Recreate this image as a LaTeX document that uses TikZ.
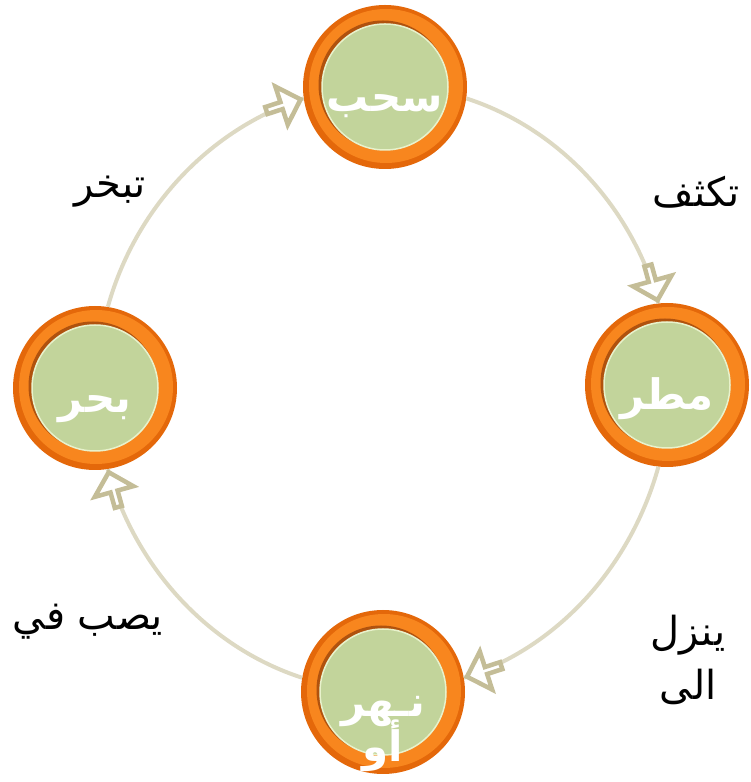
\documentclass[tikz,border=0pt]{standalone}
\usepackage{fontspec}
\setmainfont{Liberation Sans}
\newfontfamily\arabicfont[Script=Arabic]{DejaVu Sans}
\TeXXeTstate=1
\usetikzlibrary{shapes.arrows}
\definecolor{ringline}{RGB}{221,217,195}
\definecolor{arrowtan}{RGB}{196,189,151}
\definecolor{leaf}{RGB}{194,212,155}
\definecolor{leafrim}{RGB}{232,242,204}
\definecolor{orangemid}{RGB}{248,134,30}
\definecolor{orangedark}{RGB}{228,104,10}
\definecolor{ringshadow}{RGB}{176,82,14}
% label sitting a little below the centre of a circle
\newcommand\stationlabel[1]{\raisebox{-25pt}[0pt][0pt]{#1}}

\tikzset{
  station/.style={circle,minimum size=164pt,inner sep=0pt,fill=orangedark,text=white,
    font=\arabicfont\bfseries\fontsize{42}{48}\selectfont,
    path picture={
      \fill[orangemid] ([shift={(1pt,1pt)}]path picture bounding box.center) circle (77pt);
      \fill[ringshadow] ([shift={(-2pt,2pt)}]path picture bounding box.center) circle (64.5pt);
      \fill[leaf,draw=leafrim,line width=1.5pt] (path picture bounding box.center) circle (63pt);
    }},
  cycleline/.style={ringline,line width=4pt,looseness=0.9},
  blockarrow/.style={single arrow,draw=arrowtan,fill=white,line width=4.5pt,
    minimum height=36pt,minimum width=40pt,single arrow head extend=10pt,
    inner sep=0pt,sloped,allow upside down,anchor=tip,pos=1},
  stage/.style={font=\arabicfont\fontsize{40}{54}\selectfont,align=center}
}

\begin{document}
\begin{tikzpicture}[x=1pt,y=1pt]
  \path[use as bounding box,clip] (0,0) rectangle (750,782);

  % the four stages of the water cycle
  \node[station] (sahab) at (385,695) {\stationlabel{\beginR سحب\endR}};
  \node[station] (matar) at (667,397) {\stationlabel{\beginR مطر\endR}};
  \node[station] (nahr) at (383,90)
    {\stationlabel{\begin{tabular}[t]{@{}c@{}}\beginR نـهر\endR\\[-12pt]\beginR أو\endR\end{tabular}}};
  \node[station] (bahr) at (95,394) {\stationlabel{\beginR بحر\endR}};

  % connectors round the ring
  \draw[cycleline] (sahab.-8.5) to[out=-18,in=105.5] node[blockarrow] {} (matar.96.5);
  \draw[cycleline] (matar.264) to[out=-105.5,in=18] node[blockarrow] {} (nahr.10);
  \draw[cycleline] (nahr.170) to[out=162,in=-74.5] node[blockarrow] {} (bahr.-81);
  \draw[cycleline] (bahr.81) to[out=74.5,in=198] node[blockarrow] {} (sahab.188);

  % labels of the steps
  \node[stage] (tabakhur) at (110,590) {\beginR تبخر\endR};
  \node[stage] (takathuf) at (696,590) {\beginR تكثف\endR};
  \node[stage] (yanzil) at (688,122) {\beginR ينزل\endR\\\beginR الى\endR};
  \node[stage] (yasubb) at (88,160) {\beginR يصب في\endR};
\end{tikzpicture}
\end{document}
